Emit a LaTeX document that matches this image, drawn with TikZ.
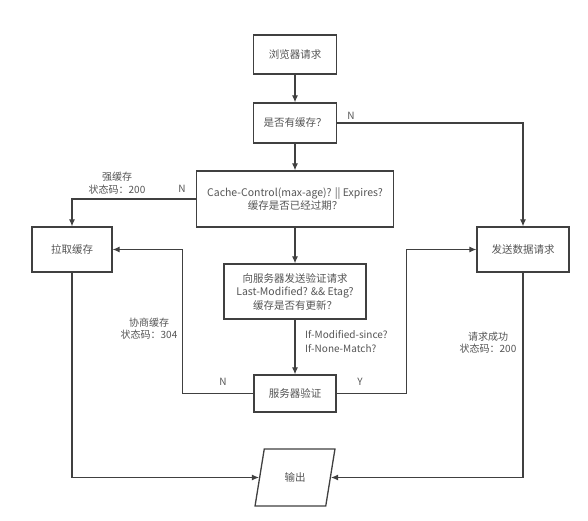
\documentclass[tikz,border=0pt]{standalone}
\usepackage{fontspec}
\setmainfont{Noto Sans CJK SC}
\usepackage{xcolor}
\definecolor{flow-line}{RGB}{64,64,64}
\definecolor{flow-text}{RGB}{85,85,85}
\usetikzlibrary{arrows.meta,shapes.geometric,positioning}

\begin{document}
\begin{tikzpicture}[
    x=1pt, y=-1pt,
    every node/.style={inner sep=0pt, text=flow-text},
    box/.style={draw=flow-line, line width=1.3pt, fill=white, align=center,
        font=\fontsize{10.5}{13.5}\selectfont},
    note/.style={align=center, font=\fontsize{10}{12.5}\selectfont},
    flow/.style={draw=flow-line, line width=1.1pt, -{Latex[length=7pt,width=6pt]}}
]
\useasboundingbox[fill=white] (0,0) rectangle (588,521);

% Main column
\node[box, minimum width=83pt, minimum height=39pt] (browser) at (295,54.5) {浏览器请求};
\node[box, minimum width=83pt, minimum height=40pt] (hascache) at (295,123) {是否有缓存？};
\node[box, minimum width=197pt, minimum height=56pt] (expired) at (295,199)
    {Cache-Control(max-age)? || Expires?\\缓存是否已经过期？};
\node[box, minimum width=142pt, minimum height=55pt] (validate) at (295,291.5)
    {向服务器发送验证请求\\Last-Modified? \&\& Etag?\\缓存是否有更新？};
\node[box, minimum width=82pt, minimum height=37pt] (server) at (295,393.5) {服务器验证};

% Side boxes
\node[box, minimum width=80pt, minimum height=45pt] (fetchcache) at (72,249.5) {拉取缓存};
\node[box, minimum width=92pt, minimum height=45pt] (sendreq) at (523,249.5) {发送数据请求};

% Output
\node[box, trapezium, trapezium left angle=72, trapezium right angle=108,
    trapezium stretches=true, minimum width=80pt, minimum height=57pt]
    (output) at (295,477.5) {输出};

% Connectors
\draw[flow] (browser) -- (hascache);
\draw[flow] (hascache) -- (expired);
\draw[flow] (expired) -- (validate);
\draw[flow] (validate) -- (server);
\draw[flow] (hascache.east) -| (sendreq.north);
\draw[flow] (expired.west) -| (fetchcache.north);
\draw[flow] (server.west) -- ++(-71,0) |- (fetchcache.east);
\draw[flow] (server.east) -- ++(70,0) |- (sendreq.west);
\draw[flow] (fetchcache.south) |- (output.west);
\draw[flow] (sendreq.south) |- (output.east);

% Labels
\node[note] (n-cache) at (351,116) {N};
\node[note] (strong) at (117,183) {强缓存\\状态码：200};
\node[note] (n-expired) at (182,189) {N};
\node[note] (negotiate) at (149,328.5) {协商缓存\\状态码：304};
\node[note, align=left, anchor=west, font=\fontsize{10}{14}\selectfont] (headers) at (305,342)
    {If-Modified-since?\\If-None-Match?};
\node[note] (n-server) at (223,382) {N};
\node[note] (y-server) at (360,382) {Y};
\node[note] (success) at (488,342.5) {请求成功\\状态码：200};

\end{tikzpicture}
\end{document}
